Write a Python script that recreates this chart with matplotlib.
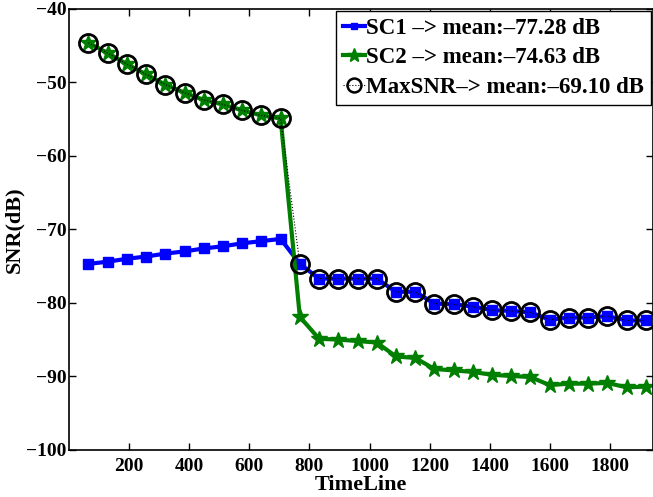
import matplotlib
matplotlib.use("Agg")
import matplotlib.pyplot as plt

timeline = [64, 128, 192, 256, 320, 384, 448, 512, 576, 640, 704, 768, 832, 896, 960,
            1024, 1088, 1152, 1216, 1280, 1344, 1408, 1472, 1536, 1600, 1664, 1728, 1792, 1856, 1920]
sc1 = [-74.7, -74.4, -74.0, -73.7, -73.3, -73.0, -72.6, -72.3, -71.9, -71.6, -71.3,
       -74.7, -76.7, -76.7, -76.7, -76.7, -78.5, -78.5, -80.1, -80.2, -80.5, -81.0, -81.1, -81.3,
       -82.3, -82.0, -82.0, -81.8, -82.4, -82.4]
sc2 = [-44.6, -46.0, -47.5, -48.9, -50.3, -51.4, -52.4, -53.0, -53.8, -54.5, -54.9,
       -81.9, -84.9, -85.0, -85.2, -85.4, -87.3, -87.5, -89.0, -89.2, -89.4, -89.8, -89.95, -90.1,
       -91.2, -91.0, -91.0, -90.9, -91.5, -91.4]
maxsnr = [-44.6, -46.0, -47.5, -48.9, -50.3, -51.4, -52.4, -53.0, -53.8, -54.5, -54.9,
          -74.7, -76.7, -76.7, -76.7, -76.7, -78.5, -78.5, -80.1, -80.2, -80.5, -81.0, -81.1, -81.3,
          -82.3, -82.0, -82.0, -81.8, -82.4, -82.4]
labels = ["SC1 \u2013> mean:\u201377.28 dB",
          "SC2 \u2013> mean:\u201374.63 dB",
          "MaxSNR\u2013> mean:\u201369.10 dB"]
xticks = [200, 400, 600, 800, 1000, 1200, 1400, 1600, 1800]
yticks = [-100, -90, -80, -70, -60, -50, -40]

plt.rcParams['font.family'] = ['Liberation Serif', 'DejaVu Serif']
plt.rcParams['font.weight'] = 'bold'
plt.rcParams['axes.unicode_minus'] = True

fig = plt.figure(figsize=(6.53, 4.97), dpi=100)
ax = fig.add_axes([0.106, 0.095, 0.894, 0.887])

ax.plot(timeline, sc1, color='#0000ff', lw=3, marker='s', ms=7, mfc='#0000ff', mec='#0000ff',
        label=labels[0])
ax.plot(timeline, sc2, color='#007f00', lw=3, marker='*', ms=12, mfc='#007f00', mec='#007f00',
        label=labels[1])
ax.plot(timeline, maxsnr, color='black', lw=0.8, ls=':', marker='o', ms=13, mfc='none',
        mec='black', mew=2, label=labels[2])

ax.set_xlim(0, 1944)
ax.set_ylim(-100, -40)
ax.set_xticks(xticks)
ax.set_yticks(yticks)
ax.tick_params(direction='in', length=5, width=1, top=True, right=True, labelsize=14)
ax.tick_params(axis='x', pad=6)
ax.tick_params(axis='y', pad=2)
for lab in ax.get_xticklabels() + ax.get_yticklabels():
    lab.set_fontweight('bold')
for s in ax.spines.values():
    s.set_linewidth(1.2)

ax.set_xlabel('TimeLine', fontsize=16, fontweight='bold', labelpad=0)
ax.set_ylabel('SNR(dB)', fontsize=16, fontweight='bold', labelpad=1)

leg = ax.legend(loc='upper right', handlelength=0.95, handletextpad=0.05,
                borderpad=0.3, labelspacing=0.36, borderaxespad=0.1, fancybox=False,
                framealpha=1, edgecolor='black', prop={'weight': 'bold', 'size': 16.5})
leg.get_frame().set_linewidth(1.0)
hs = leg.legend_handles
hs[0].set_markersize(5)
hs[1].set_markersize(10)
hs[2].set_markersize(10)
hs[2].set_markeredgewidth(1.8)

fig.savefig('out.png', dpi=100)
